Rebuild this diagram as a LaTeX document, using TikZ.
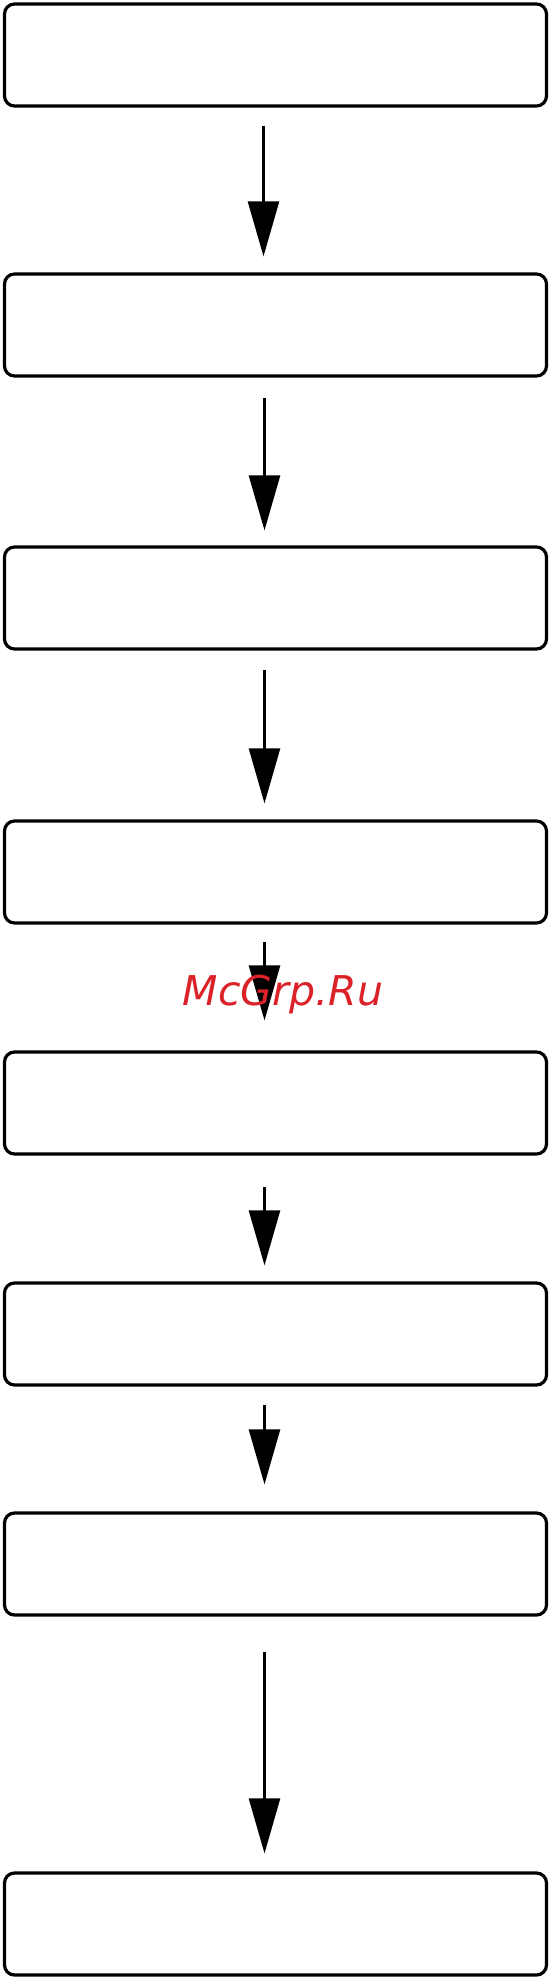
\documentclass[tikz,border=0pt]{standalone}
\usepackage{fontspec}
\newfontfamily\wmfont{DejaVu Sans}
\usetikzlibrary{arrows.meta}
\definecolor{wmred}{RGB}{218,34,40}
\tikzset{
  stepbox/.style={draw=black, line width=3.2pt, rounded corners=10pt, minimum width=542pt, minimum height=102pt, inner sep=0pt, fill=white},
  arr/.style={draw=black, line width=2.5pt, -{Triangle[length=55pt,width=31pt]}},
}
\begin{document}
\begin{tikzpicture}[x=1pt,y=-1pt]
\useasboundingbox (0,0) rectangle (552,1979);
\node[stepbox] (b1) at (275.5,55) {};
\node[stepbox] (b2) at (275.5,325) {};
\node[stepbox] (b3) at (275.5,598) {};
\node[stepbox] (b4) at (275.5,872) {};
\node[stepbox] (b5) at (275.5,1103) {};
\node[stepbox] (b6) at (275.5,1334) {};
\node[stepbox] (b7) at (275.5,1564) {};
\node[stepbox] (b8) at (275.5,1924) {};
\draw[arr, shorten <=18pt, shorten >=16pt] ([xshift=-12pt]b1.south) -- ([xshift=-12pt]b2.north);
\draw[arr, shorten <=20pt, shorten >=15pt] ([xshift=-11pt]b2.south) -- ([xshift=-11pt]b3.north);
\draw[arr, shorten <=19pt, shorten >=16pt] ([xshift=-11pt]b3.south) -- ([xshift=-11pt]b4.north);
\draw[arr, shorten <=17pt, shorten >=30pt] ([xshift=-11pt]b4.south) -- ([xshift=-11pt]b5.north);
\draw[arr, shorten <=31pt, shorten >=16pt] ([xshift=-11pt]b5.south) -- ([xshift=-11pt]b6.north);
\draw[arr, shorten <=18pt, shorten >=27pt] ([xshift=-11pt]b6.south) -- ([xshift=-11pt]b7.north);
\draw[arr, shorten <=35pt, shorten >=18pt] ([xshift=-11pt]b7.south) -- ([xshift=-11pt]b8.north);
\node[anchor=base, inner sep=0pt, text=wmred, font=\wmfont\itshape\fontsize{41pt}{49pt}\selectfont] (wm) at (283,1005) {McGrp.Ru};
\end{tikzpicture}
\end{document}
